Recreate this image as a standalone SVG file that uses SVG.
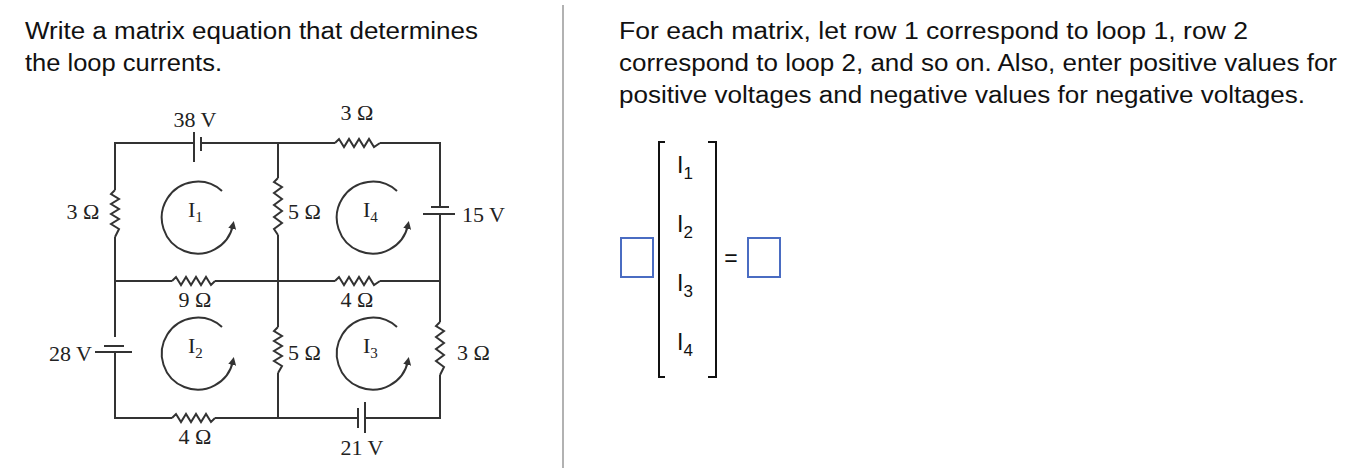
<svg xmlns="http://www.w3.org/2000/svg" width="1348" height="468" viewBox="0 0 1348 468">
<style>
.w{stroke:#333;stroke-width:2;fill:none}
.c{font-family:"Liberation Serif",serif;font-size:22px;fill:#222}
.s{font-size:15px}
.t{font-family:"Liberation Sans",Arial,sans-serif;font-size:23px;fill:#111}
.b{fill:#fff;stroke:#4a6cc2;stroke-width:2}
</style>
<defs>
<marker id="ah" markerWidth="8" markerHeight="8" refX="4" refY="4" orient="auto" markerUnits="userSpaceOnUse"><path d="M0,0 L8,4 L0,8 z" fill="#333"/></marker>
</defs>
<rect width="1348" height="468" fill="#fff"/>
<g id="left-text"><text class="t" x="25" y="39" textLength="453" lengthAdjust="spacingAndGlyphs">Write a matrix equation that determines</text><text class="t" x="25" y="71" textLength="197" lengthAdjust="spacingAndGlyphs">the loop currents.</text></g>
<line x1="563" y1="5" x2="563" y2="468" stroke="#999" stroke-width="1.5"/>
<g id="right-text"><text class="t" x="619" y="39" textLength="629" lengthAdjust="spacingAndGlyphs">For each matrix, let row 1 correspond to loop 1, row 2</text><text class="t" x="619" y="71" textLength="718" lengthAdjust="spacingAndGlyphs">correspond to loop 2, and so on. Also, enter positive values for</text><text class="t" x="619" y="103" textLength="686" lengthAdjust="spacingAndGlyphs">positive voltages and negative values for negative voltages.</text></g>
<g id="connectors">
<path class="w" d="M194 143 H115 V190 M115 237 V337 M115 352 V418 H172 M215 418 H358 M365 418 H440 V375 M440 322 V214 M440 207 V143 H380 M335 143 H201"/>
<path class="w" d="M278 143 V178 M278 235 V327 M278 373 V418"/>
<path class="w" d="M115 281 H172 M215 281 H335 M380 281 H440"/>
</g>
<g id="r-top"><path class="w" d="M335 143 L339 139 L344 147 L349 139 L354 147 L359 139 L364 147 L369 139 L374 147 L380 143"/></g>
<g id="r-left"><path class="w" d="M115 190 L111 194 L119 199 L111 204 L119 209 L111 214 L119 219 L111 224 L119 229 L115 237"/></g>
<g id="r-mid1"><path class="w" d="M278 178 L274 182 L282 187 L274 193 L282 199 L274 205 L282 211 L274 217 L282 223 L274 229 L278 235"/></g>
<g id="r-mid2"><path class="w" d="M278 327 L274 331 L282 336 L274 341 L282 346 L274 351 L282 356 L274 361 L282 366 L278 373"/></g>
<g id="r-right"><path class="w" d="M440 322 L436 326 L444 331 L436 337 L444 343 L436 349 L444 355 L436 361 L444 367 L440 375"/></g>
<g id="r-9"><path class="w" d="M172 281 L176 277 L181 285 L186 277 L191 285 L196 277 L201 285 L206 277 L211 285 L215 281"/></g>
<g id="r-4m"><path class="w" d="M335 281 L339 277 L344 285 L349 277 L354 285 L359 277 L364 285 L369 277 L374 285 L380 281"/></g>
<g id="r-4b"><path class="w" d="M172 418 L176 414 L181 422 L186 414 L191 422 L196 414 L201 422 L206 414 L211 422 L215 418"/></g>
<g id="bat38"><line class="w" x1="194" y1="132" x2="194" y2="162" stroke-width="1.5"/><line class="w" x1="201" y1="137" x2="201" y2="151" stroke-width="4"/></g>
<g id="bat15"><line class="w" x1="431" y1="207" x2="449" y2="207" stroke-width="4"/><line class="w" x1="423" y1="214" x2="455" y2="214" stroke-width="1.5"/></g>
<g id="bat28"><line class="w" x1="104" y1="346" x2="124" y2="346" stroke-width="4"/><line class="w" x1="95" y1="352" x2="132" y2="352" stroke-width="1.5"/></g>
<g id="bat21"><line class="w" x1="358" y1="408" x2="358" y2="428" stroke-width="4"/><line class="w" x1="365" y1="402" x2="365" y2="433" stroke-width="1.5"/></g>
<g id="loops">
<path class="w" d="M222 191 A36 36 0 1 0 233 225" marker-end="url(#ah)"/>
<path class="w" d="M397 191 A36 36 0 1 0 408 225" marker-end="url(#ah)"/>
<path class="w" d="M222 327 A36 36 0 1 0 233 361" marker-end="url(#ah)"/>
<path class="w" d="M397 327 A36 36 0 1 0 408 361" marker-end="url(#ah)"/>
</g>
<g id="labels">
<text class="c" x="188" y="217">I<tspan class="s" dy="5">1</tspan></text>
<text class="c" x="363" y="217">I<tspan class="s" dy="5">4</tspan></text>
<text class="c" x="188" y="353">I<tspan class="s" dy="5">2</tspan></text>
<text class="c" x="363" y="353">I<tspan class="s" dy="5">3</tspan></text>
<text class="c" x="195" y="127" text-anchor="middle">38 V</text>
<text class="c" x="357" y="120" text-anchor="middle">3 Ω</text>
<text class="c" x="83" y="219" text-anchor="middle">3 Ω</text>
<text class="c" x="288" y="219">5 Ω</text>
<text class="c" x="462" y="222">15 V</text>
<text class="c" x="195" y="307" text-anchor="middle">9 Ω</text>
<text class="c" x="357" y="307" text-anchor="middle">4 Ω</text>
<text class="c" x="92" y="361" text-anchor="end">28 V</text>
<text class="c" x="288" y="360">5 Ω</text>
<text class="c" x="457" y="360">3 Ω</text>
<text class="c" x="195" y="444" text-anchor="middle">4 Ω</text>
<text class="c" x="362" y="455" text-anchor="middle">21 V</text>
</g>
<g id="matrix">
<path d="M665 142 H659 V377 H665 M708 142 H716 V377 H708" fill="none" stroke="#111" stroke-width="2"/>
<text class="t" x="677" y="173">I<tspan font-size="17" dy="6">1</tspan></text>
<text class="t" x="677" y="232">I<tspan font-size="17" dy="6">2</tspan></text>
<text class="t" x="677" y="291">I<tspan font-size="17" dy="6">3</tspan></text>
<text class="t" x="677" y="350">I<tspan font-size="17" dy="6">4</tspan></text>
<rect class="b" x="621" y="238" width="32" height="39"/>
<text class="t" x="731" y="266" text-anchor="middle">=</text>
<rect class="b" x="748" y="238" width="32" height="39"/>
</g>
</svg>
